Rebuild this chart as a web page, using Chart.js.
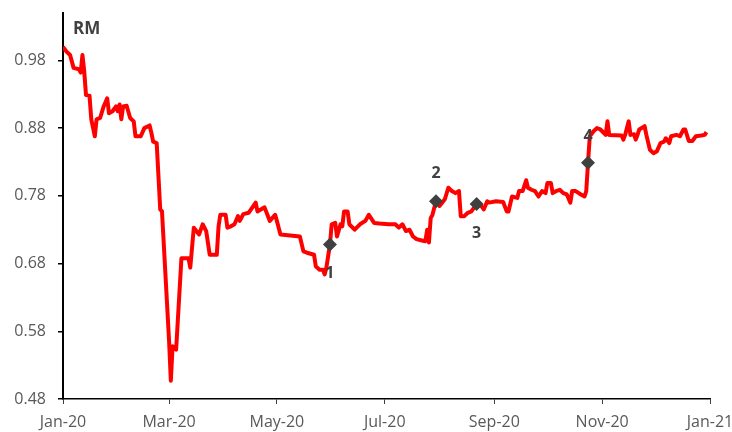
<!DOCTYPE html>
<html>
<head>
<meta charset="utf-8">
<script src="https://cdn.jsdelivr.net/npm/chart.js@4.4.1/dist/chart.umd.min.js"></script>
<style>
  html, body { margin: 0; padding: 0; background: #fff; }
  #wrap { width: 732px; height: 432px; }
</style>
</head>
<body>
<div id="wrap"><canvas id="rmChart" width="732" height="432"></canvas></div>
<script>
// days since 1 Jan 2020
const dayOffsets = [
  0, 2, 4, 6, 9, 10, 11, 12, 13, 15, 16, 18, 19, 21, 23, 25, 26, 28, 30, 31,
  32, 33, 34, 36, 38, 40, 41, 44, 46, 49, 50, 51, 53, 55, 56, 60, 61, 62, 64, 67,
  71, 72, 74, 77, 79, 81, 83, 87, 88, 89, 92, 93, 95, 97, 99, 100, 102, 105, 109, 110,
  114, 117, 120, 121, 123, 134, 136, 138, 142, 143, 145, 147, 148, 149, 151, 152, 154, 155, 157, 158,
  159, 161, 162, 165, 168, 171, 173, 176, 179, 184, 188, 190, 192, 194, 196, 198, 200, 203, 205, 206,
  207, 208, 209, 211, 213, 216, 218, 220, 222, 224, 225, 227, 229, 231, 234, 236, 238, 240, 241, 245,
  249, 251, 252, 254, 257, 258, 260, 262, 263, 265, 267, 269, 271, 273, 274, 276, 277, 279, 281, 283,
  285, 287, 288, 290, 293, 295, 296, 297, 298, 300, 302, 304, 307, 308, 309, 316, 317, 318, 320, 321,
  323, 324, 325, 326, 329, 330, 332, 334, 336, 338, 340, 341, 343, 344, 347, 349, 351, 352, 354, 356,
  358, 361, 363, 364
];
const rmValues = [
  1.000, 0.993, 0.988, 0.969, 0.967, 0.962, 0.988, 0.964, 0.929, 0.928, 0.893, 0.868, 0.893, 0.895, 0.912, 0.924, 0.902, 0.905, 0.912, 0.905,
  0.915, 0.893, 0.912, 0.913, 0.895, 0.890, 0.868, 0.868, 0.880, 0.884, 0.873, 0.860, 0.858, 0.760, 0.757, 0.566, 0.507, 0.558, 0.553, 0.688,
  0.688, 0.674, 0.733, 0.723, 0.738, 0.728, 0.693, 0.693, 0.735, 0.752, 0.752, 0.733, 0.735, 0.738, 0.750, 0.743, 0.753, 0.755, 0.770, 0.757,
  0.763, 0.743, 0.752, 0.743, 0.723, 0.720, 0.698, 0.696, 0.693, 0.676, 0.671, 0.671, 0.664, 0.674, 0.708, 0.738, 0.740, 0.720, 0.738, 0.735,
  0.757, 0.757, 0.738, 0.730, 0.738, 0.743, 0.752, 0.740, 0.739, 0.738, 0.738, 0.733, 0.738, 0.728, 0.730, 0.720, 0.716, 0.714, 0.713, 0.730,
  0.711, 0.747, 0.752, 0.772, 0.765, 0.775, 0.792, 0.787, 0.784, 0.787, 0.750, 0.750, 0.755, 0.757, 0.768, 0.767, 0.760, 0.772, 0.770, 0.772,
  0.771, 0.757, 0.757, 0.779, 0.777, 0.787, 0.787, 0.803, 0.792, 0.789, 0.787, 0.779, 0.787, 0.784, 0.799, 0.799, 0.784, 0.787, 0.789, 0.784,
  0.782, 0.770, 0.787, 0.787, 0.782, 0.779, 0.787, 0.829, 0.868, 0.875, 0.880, 0.878, 0.870, 0.890, 0.870, 0.869, 0.863, 0.870, 0.890, 0.870,
  0.871, 0.863, 0.870, 0.878, 0.883, 0.870, 0.848, 0.843, 0.846, 0.858, 0.860, 0.865, 0.858, 0.868, 0.870, 0.868, 0.878, 0.878, 0.861, 0.861,
  0.868, 0.869, 0.870, 0.874
];

// numbered event markers
const markerDays = [151, 211, 234, 297];
const markerValues = [0.708, 0.772, 0.768, 0.829];
const markerLabels = ['1', '2', '3', '4'];

// axis ticks
const xTickDays = [0, 60, 121, 182, 244, 305, 366];
const xTickLabels = ['Jan-20', 'Mar-20', 'May-20', 'Jul-20', 'Sep-20', 'Nov-20', 'Jan-21'];
const yTickValues = [0.48, 0.58, 0.68, 0.78, 0.88, 0.98];
const unitLabel = 'RM';

const FONT = '"Open Sans", "Segoe UI", sans-serif';

const annotations = {
    id: 'annotations',
    afterDatasetsDraw(chart) {
        const ctx = chart.ctx;
        const xs = chart.scales.x, ys = chart.scales.y;
        ctx.save();
        ctx.fillStyle = '#404040';
        ctx.font = 'bold 17px ' + FONT;
        ctx.textAlign = 'left';
        ctx.textBaseline = 'middle';
        ctx.fillText(unitLabel, chart.chartArea.left + 10, 29);

        // label above (-) or below (+) each marker
        const offsets = [29, -28, 29, -26];
        ctx.font = 'bold 16px ' + FONT;
        ctx.textAlign = 'center';
        markerLabels.forEach((lbl, i) => {
            const px = xs.getPixelForValue(markerDays[i]);
            const py = ys.getPixelForValue(markerValues[i]);
            ctx.fillText(lbl, px, py + offsets[i]);
        });
        ctx.restore();
    }
};

new Chart(document.getElementById('rmChart'), {
    type: 'line',
    data: {
        datasets: [{
            label: 'Markers',
            data: markerDays.map((d, i) => ({ x: d, y: markerValues[i] })),
            showLine: false,
            pointStyle: 'rectRot',
            pointRadius: 7,
            backgroundColor: '#404040',
            borderColor: '#404040',
            borderWidth: 0,
            order: 0
        }, {
            label: 'RM',
            data: dayOffsets.map((d, i) => ({ x: d, y: rmValues[i] })),
            borderColor: '#ff0000',
            borderWidth: 4,
            pointRadius: 0,
            tension: 0,
            borderJoinStyle: 'round',
            order: 1
        }]
    },
    options: {
        responsive: false,
        animation: false,
        layout: { padding: { top: 13, right: 22, left: 0, bottom: 0 } },
        plugins: {
            legend: { display: false },
            tooltip: { enabled: false }
        },
        scales: {
            x: {
                type: 'linear',
                min: 0,
                max: 366,
                afterBuildTicks: s => { s.ticks = xTickDays.map(v => ({ value: v })); },
                afterFit: s => { s.height = 33; s.paddingLeft = 0; s.paddingRight = 0; },
                ticks: {
                    callback: (v, i) => xTickLabels[i],
                    color: '#595959',
                    font: { family: FONT, size: 16 },
                    padding: 9,
                    maxRotation: 0,
                    autoSkip: false
                },
                grid: { drawOnChartArea: false, tickLength: 5, color: '#404040', lineWidth: 1 },
                border: { color: '#000', width: 1.5 }
            },
            y: {
                type: 'linear',
                min: 0.48,
                max: 1.05,
                afterBuildTicks: s => { s.ticks = yTickValues.map(v => ({ value: v })); },
                afterFit: s => { s.width = 63; s.paddingTop = 0; s.paddingBottom = 0; },
                ticks: {
                    callback: v => v.toFixed(2),
                    color: '#595959',
                    font: { family: FONT, size: 16 },
                    padding: 12
                },
                grid: { drawOnChartArea: false, tickLength: 5, color: '#000', lineWidth: 1.5 },
                border: { color: '#000', width: 2 }
            }
        }
    },
    plugins: [annotations]
});
</script>
</body>
</html>
